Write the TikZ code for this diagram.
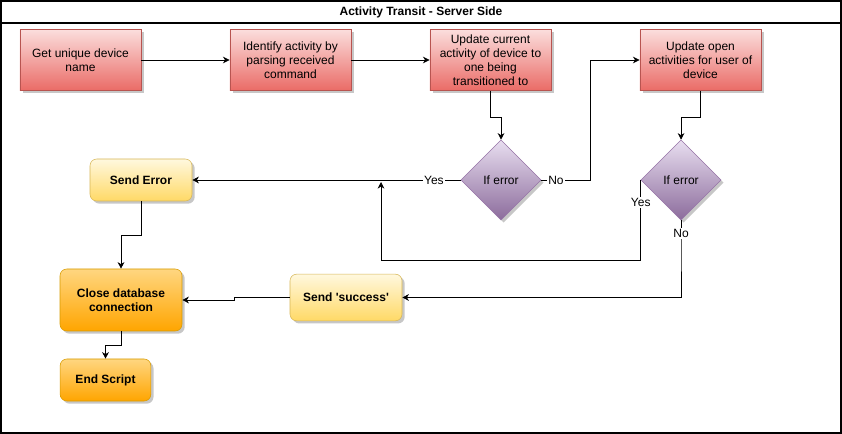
\documentclass[tikz,border=0pt]{standalone}
\usepackage{fontspec}
\setmainfont{Liberation Sans}
\usetikzlibrary{arrows.meta,shapes.geometric,shadows}

\definecolor{redtop}{RGB}{251,222,221}
\definecolor{redbot}{RGB}{234,107,102}
\definecolor{redline}{RGB}{184,84,80}
\definecolor{purtop}{RGB}{232,222,240}
\definecolor{purbot}{RGB}{140,108,156}
\definecolor{purline}{RGB}{150,115,166}
\definecolor{yeltop}{RGB}{255,248,222}
\definecolor{yelbot}{RGB}{255,217,102}
\definecolor{yelline}{RGB}{214,182,86}
\definecolor{orgtop}{RGB}{255,214,128}
\definecolor{orgbot}{RGB}{255,165,0}
\definecolor{orgline}{RGB}{215,155,0}

\begin{document}
\begin{tikzpicture}[x=0.75pt,y=-0.75pt,
    every node/.style={font=\fontsize{9}{10.5}\selectfont},
    shade/.style={drop shadow={shadow xshift=2pt,shadow yshift=-2pt,fill=black!22,opacity=1}},
    redbox/.style={rectangle,draw=redline,top color=redtop,bottom color=redbot,shade,
                   minimum width=91pt,minimum height=46pt,align=center,inner sep=1pt},
    decide/.style={diamond,draw=purline,top color=purtop,bottom color=purbot,shade,
                   minimum width=60pt,minimum height=60pt,inner sep=0pt,aspect=1},
    yelbox/.style={rectangle,rounded corners=5pt,draw=yelline,top color=yeltop,bottom color=yelbot,
                   shade,align=center,font=\fontsize{9}{10.5}\selectfont\bfseries},
    orgbox/.style={rectangle,rounded corners=5pt,draw=orgline,top color=orgtop,bottom color=orgbot,
                   shade,align=center,font=\fontsize{9}{10.5}\selectfont\bfseries},
    flow/.style={-{Stealth[length=5pt,width=5pt]},line width=0.6pt},
    tag/.style={fill=white,inner sep=1pt}]
  \useasboundingbox (0,0) rectangle (842,434);
  % outer frame with title bar
  \draw[line width=0.8pt] (1,1) rectangle (841,433);
  \draw[line width=0.8pt] (1,23) -- (841,23);
  \node[font=\fontsize{9}{10.5}\selectfont\bfseries] (title) at (421,12) {Activity Transit - Server Side};

  % top row of steps
  \node[redbox] (dev)   at (80.5,60)  {Get unique device\\name};
  \node[redbox] (ident) at (290.5,60) {Identify activity by\\parsing received\\command};
  \node[redbox] (cur)   at (490.5,60) {Update current\\activity of device to\\one being\\transitioned to};
  \node[redbox] (opn)   at (700.5,60) {Update open\\activities for user of\\device};

  % checks
  \node[decide] (err1) at (501,180) {If error\\[2pt]};
  \node[decide] (err2) at (681,180) {If error\\[2pt]};

  % end steps
  \node[yelbox,minimum width=76.5pt,minimum height=31.5pt] (senderr) at (141,180) {Send Error};
  \node[orgbox,minimum width=91.5pt,minimum height=46.5pt] (closedb) at (121,300) {Close database\\connection};
  \node[yelbox,minimum width=84pt,minimum height=35pt]     (succ)    at (346,297.5) {Send \textquotesingle success\textquotesingle};
  \node[orgbox,minimum width=68pt,minimum height=31.5pt]   (endscr)  at (105.5,380) {End Script};
  \coordinate (yesjoin) at (381,182);

  \draw[flow] (dev.east) -- (ident.west);
  \draw[flow] (ident.east) -- (cur.west);
  \draw[flow] (cur.south) -- ++(0,26) -| (err1.north);
  \draw[flow] (err1.east) -- node[tag,pos=0.3] {No} ++(49,0) |- (opn.west);
  \draw[flow] (err1.west) -- node[tag,pos=0.1] {Yes} (senderr.east);
  \draw[flow] (opn.south) -- ++(0,26) -| (err2.north);
  \draw[flow] (err2.west) -- node[tag,pos=0.28] {Yes} ++(0,80) -| (yesjoin);
  \draw[flow] (err2.south) -- node[tag] {No} ++(0,26) |- (succ.east);
  \draw[flow] (senderr.south) -- ++(0,34) -| (closedb.north);
  \draw[flow] (succ.west) -- ++(-55,0) |- (closedb.east);
  \draw[flow] (closedb.south) -- ++(0,14) -| (endscr.north);
\end{tikzpicture}
\end{document}
